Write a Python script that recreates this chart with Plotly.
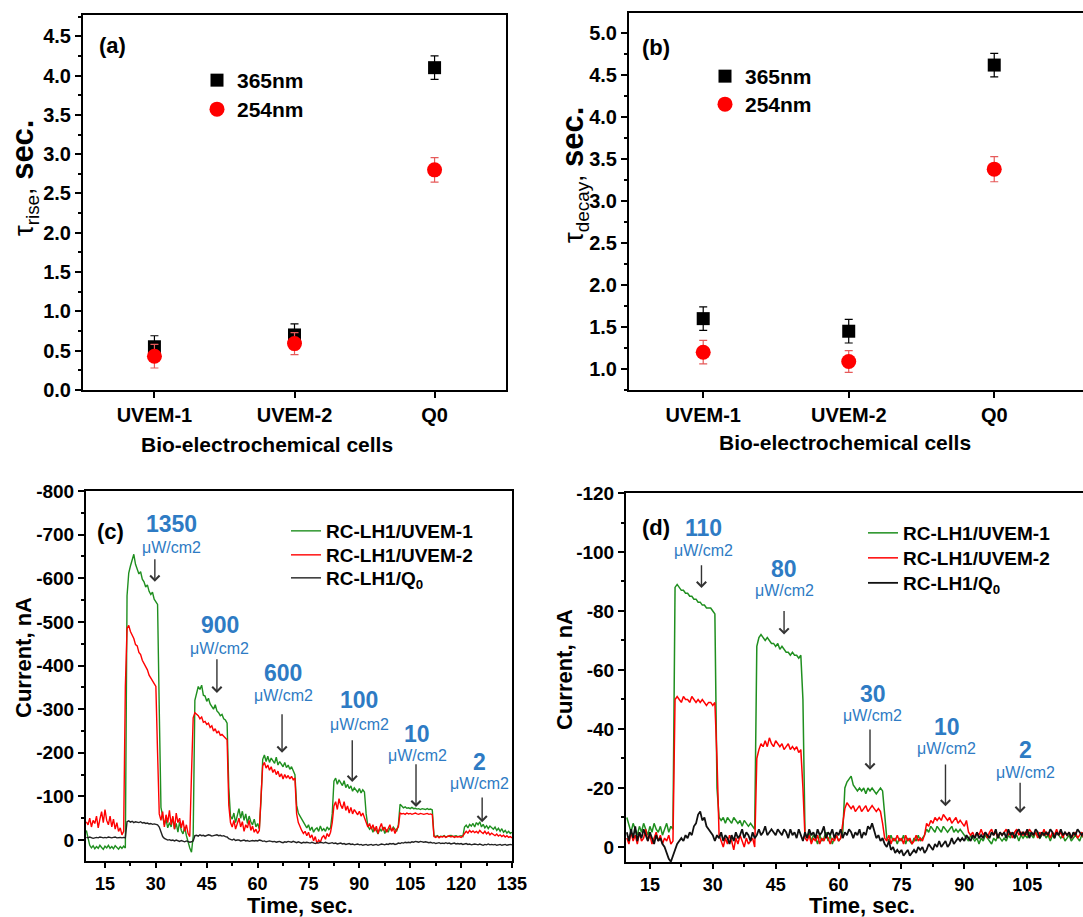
import numpy as np
import plotly.graph_objects as go

FONT = "Liberation Sans, Arial, sans-serif"
W, H = 1083, 917

# ---------------- panel (a)/(b) data ----------------
cells = ["UVEM-1", "UVEM-2", "Q0"]
rise_365 = [0.55, 0.70, 4.10]
rise_365_err = [0.14, 0.14, 0.15]
rise_254 = [0.43, 0.59, 2.80]
rise_254_err = [0.15, 0.14, 0.155]
decay_365 = [1.60, 1.45, 4.62]
decay_365_err = [0.14, 0.14, 0.14]
decay_254 = [1.20, 1.09, 3.38]
decay_254_err = [0.14, 0.13, 0.15]

# ---------------- panel (c) data (t = 9.5 s, step 0.5 s) ----------------
green_c = [
    -22, -4, 12, 18, 13, 20, 15, 19, 12, 17,
    21, 14, 18, 12, 19, 15, 20, 13, 17, 21,
    15, 19, 14, 18, -560, -612, -628, -645, -655, -632,
    -622, -610, -615, -598, -592, -580, -585, -570, -563, -568,
    -552, -545, -540, -300, -75, -55, -35, -48, -28, -40,
    -30, -52, -25, -38, -18, -42, -22, -14, -30, -10,
    5, 18, 28, -8, -320, -340, -352, -345, -355, -332,
    -330, -318, -325, -312, -306, -300, -310, -296, -292, -285,
    -288, -278, -275, -268, -120, -55, -48, -62, -40, -58,
    -72, -50, -66, -45, -60, -38, -55, -42, -35, -48,
    -30, -38, -25, -90, -185, -195, -180, -192, -178, -188,
    -182, -176, -190, -172, -180, -175, -168, -178, -166, -172,
    -162, -168, -160, -150, -80, -62, -55, -48, -40, -32,
    -28, -35, -22, -30, -18, -25, -28, -20, -32, -22,
    -26, -20, -30, -24, -28, -60, -135, -142, -128, -138,
    -130, -125, -136, -120, -128, -118, -124, -112, -120, -115,
    -110, -118, -108, -115, -110, -60, -32, -25, -30, -18,
    -28, -22, -14, -26, -20, -30, -15, -24, -18, -28,
    -22, -30, -25, -20, -35, -82, -78, -74, -76, -73,
    -74, -72, -75, -72, -73, -71, -72, -70, -72, -71,
    -70, -72, -70, -71, -69, -10, -8, -10, -7, -9,
    -8, -10, -7, -9, -8, -11, -8, -9, -10, -8,
    -9, -10, -8, -30, -34, -28, -36, -32, -38, -30,
    -40, -35, -42, -30, -36, -28, -33, -26, -32, -28,
    -25, -30, -22, -27, -20, -26, -18, -22, -16, -20,
    -15, -18,
]
red_c = [
    -42, -35, -50, -30, -45, -38, -55, -28, -48, -65,
    -40, -70, -45, -35, -55, -30, -48, -25, -40, -20,
    -28, -12, -20, -350, -485, -492, -478, -470, -462, -448,
    -445, -430, -425, -412, -405, -398, -390, -378, -372, -365,
    -358, -352, -200, -60, -45, -65, -30, -58, -40, -68,
    -35, -55, -25, -62, -40, -50, -28, -45, -20, -35,
    -15, -8, -150, -280, -292, -288, -285, -278, -282, -270,
    -272, -265, -268, -258, -262, -250, -255, -245, -250, -240,
    -242, -238, -235, -230, -80, -40, -30, -45, -25, -38,
    -50, -30, -42, -20, -35, -28, -45, -22, -32, -18,
    -25, -15, -22, -100, -170, -178, -165, -172, -160, -168,
    -155, -162, -150, -158, -145, -152, -140, -150, -142, -148,
    -140, -146, -138, -142, -60, -40, -30, -22, -15, -20,
    -10, -18, -5, -12, 2, -8, 8, 0, 5, -6,
    -10, -2, -15, -8, -18, -40, -78, -88, -70, -95,
    -80, -72, -88, -68, -78, -62, -75, -60, -70, -64,
    -58, -66, -55, -62, -52, -40, -30, -38, -25, -35,
    -20, -32, -15, -28, -38, -22, -30, -18, -26, -35,
    -20, -28, -15, -25, -30, -62, -60, -61, -59, -62,
    -60, -61, -59, -60, -62, -60, -59, -61, -60, -59,
    -60, -61, -59, -60, -58, -8, -6, -9, -5, -8,
    -7, -9, -6, -8, -10, -7, -9, -6, -8, -7,
    -8, -6, -9, -15, -20, -16, -22, -18, -21, -17,
    -20, -16, -22, -18, -15, -20, -14, -18, -12, -16,
    -13, -10, -14, -9, -12, -8, -11, -7, -10, -6,
    -8, -5,
]
black_c = [
    -6, -5, -7, -6, -4, -5, -6, -5, -7, -6,
    -5, -6, -5, -7, -6, -5, -6, -7, -5, -6,
    -6, -5, -6, -5, -42, -44, -41, -43, -40, -42,
    -41, -40, -42, -39, -40, -38, -39, -37, -38, -36,
    -37, -36, -35, -30, -18, -8, -4, -2, 0, -1,
    1, 0, 2, 0, 1, 3, 1, 2, 4, 2,
    3, 5, 4, 2, -10, -11, -9, -12, -10, -11,
    -9, -10, -12, -11, -9, -10, -11, -12, -10, -11,
    -9, -10, -8, -7, -3, -1, 0, -2, 1, 0,
    0, 2, 1, 0, 2, 1, 3, 2, 1, 2,
    1, 2, 0, 1, 3, 2, 4, 3, 2, 3,
    4, 3, 5, 4, 3, 5, 6, 4, 5, 3,
    4, 5, 3, 5, 6, 4, 5, 7, 5, 6,
    5, 6, 7, 5, 6, 8, 6, 7, 5, 6,
    7, 5, 6, 8, 7, 6, 8, 7, 9, 8,
    7, 9, 8, 10, 9, 8, 10, 9, 11, 10,
    9, 11, 10, 12, 11, 10, 12, 11, 10, 12,
    11, 10, 12, 11, 9, 10, 11, 9, 10, 8,
    9, 8, 10, 9, 7, 8, 6, 7, 5, 6,
    5, 6, 4, 5, 3, 4, 5, 3, 4, 5,
    4, 5, 6, 5, 7, 6, 8, 7, 6, 8,
    7, 8, 6, 8, 7, 9, 8, 7, 9, 8,
    9, 8, 10, 9, 8, 10, 9, 11, 10, 9,
    10, 11, 9, 10, 12, 10, 11, 9, 11, 10,
    11, 10, 12, 11, 10, 12, 11, 10, 12, 11,
    10, 11,
]

# ---------------- panel (d) data (t = 9.5 s, step 0.5 s) ----------------
green_d = [
    -10, -7, -5, -8, -6, -4, -7, -5, -8, -6,
    -4, -7, -5, -8, -6, -5, -7, -4, -6, -8,
    -5, -7, -6, -88, -89, -88, -87, -87, -86, -86,
    -85, -85, -84, -84, -83, -83, -82, -82, -81, -81,
    -81, -80, -79, -20, -10, -9, -10, -8, -10, -9,
    -8, -10, -9, -8, -9, -7, -9, -8, -7, -8,
    -7, -6, -68, -71, -72, -71, -70, -71, -70, -69,
    -69, -68, -69, -67, -68, -67, -66, -66, -65, -66,
    -65, -65, -64, -65, -50, -4, -3, -5, -2, -4,
    -3, -1, -4, -2, -3, -5, -2, -4, -1, -3,
    -4, -2, -3, -5, -20, -22, -23, -24, -21, -20,
    -19, -20, -19, -20, -18, -20, -19, -20, -19, -18,
    -19, -20, -19, -10, -3, -2, -4, -2, -3, -1,
    -3, -2, -4, -1, -3, -2, -1, -3, -2, -4,
    -2, -3, -4, -6, -5, -7, -6, -5, -7, -6,
    -5, -7, -6, -5, -6, -7, -5, -6, -5, -6,
    -5, -4, -3, -2, -4, -3, -2, -3, -1, -3,
    -2, -4, -3, -2, -1, -3, -2, -4, -3, -2,
    -3, -2, -4, -3, -5, -3, -4, -2, -4, -3,
    -4, -3, -5, -4, -3, -5, -4, -3, -4, -5,
    -3, -4, -2, -4, -3, -5, -4, -3, -4, -2,
    -3, -4, -2, -3, -4, -3, -2, -4, -3, -2,
]
red_d = [
    -3, -1, -5, -2, -4, -1, -5, -2, -3, -6,
    -2, -4, -1, -3, -5, -2, -4, -1, -3, -2,
    -4, -1, -2, -50, -51, -50, -49, -51, -50, -50,
    -49, -51, -50, -49, -50, -49, -50, -49, -48, -49,
    -49, -48, -49, -30, -4, -2, 0, -3, -1, -4,
    -2, 1, -3, -1, -4, -2, 0, -3, -1, -2,
    -3, 0, -30, -33, -35, -34, -36, -34, -37, -35,
    -34, -36, -35, -34, -35, -33, -34, -35, -33, -34,
    -33, -34, -32, -33, -20, -3, -2, -4, -1, -3,
    -2, -4, -1, -3, -2, -4, -3, -1, -3, -2,
    -4, -2, -3, -8, -13, -15, -14, -13, -14, -12,
    -13, -14, -12, -13, -14, -12, -13, -14, -13, -12,
    -13, -12, -8, -3, -2, -4, -1, -3, -2, -4,
    -2, -3, -1, -4, -2, -3, -1, -2, -4, -2,
    -3, -2, -4, -8, -7, -9, -8, -10, -9, -10,
    -9, -11, -10, -9, -10, -8, -9, -10, -8, -9,
    -8, -7, -9, -5, -4, -5, -3, -5, -4, -6,
    -4, -5, -3, -5, -6, -4, -5, -3, -5, -4,
    -5, -6, -4, -5, -3, -5, -6, -4, -5, -4,
    -5, -4, -6, -5, -4, -5, -3, -5, -4, -6,
    -4, -5, -3, -5, -4, -6, -4, -5, -3, -5,
    -4, -5, -3, -4, -5, -3, -4, -5, -3, -4,
]
black_d = [
    -5, -2, -6, -3, -7, -2, -5, -3, -6, -4,
    -2, -5, -3, -1, -4, -2, -3, -1, 0, 2,
    4, 5, 3, 1, -1, -2, -3, -2, -4, -3,
    -5, -4, -7, -8, -11, -12, -9, -10, -7, -6,
    -5, -4, -2, -4, -3, -5, -2, -4, -3, -1,
    -4, -2, -5, -3, -4, -6, -3, -5, -4, -2,
    -5, -3, -4, -6, -4, -5, -7, -4, -5, -6,
    -5, -4, -6, -5, -4, -6, -5, -3, -6, -4,
    -5, -3, -6, -4, -2, -5, -3, -6, -4, -5,
    -3, -6, -4, -5, -7, -3, -5, -4, -6, -3,
    -5, -4, -6, -3, -5, -4, -6, -5, -3, -5,
    -4, -6, -3, -5, -4, -7, -6, -8, -5, -3,
    -4, -2, -3, -1, 0, -2, 1, 0, 2, 1,
    2, 1, 3, 2, 1, 3, 2, 1, 2, 0,
    1, 0, 2, 1, -1, 0, 1, -1, 0, -2,
    0, -1, -2, 0, -1, -3, -1, -2, -3, -2,
    -3, -2, -4, -3, -2, -4, -3, -5, -3, -4,
    -3, -5, -4, -3, -5, -4, -6, -3, -5, -4,
    -5, -3, -6, -4, -5, -3, -5, -6, -4, -5,
    -4, -6, -3, -5, -4, -6, -5, -3, -5, -4,
    -5, -4, -6, -5, -3, -5, -4, -6, -4, -5,
    -4, -5, -3, -5, -4, -6, -5, -4, -5, -3,
]

t_start, t_step = 9.5, 0.5
t_c = [round(t_start + t_step * i, 2) for i in range(len(green_c))]
t_d = [round(t_start + t_step * i, 2) for i in range(len(green_d))]

series_names = ["RC-LH1/UVEM-1", "RC-LH1/UVEM-2", "RC-LH1/Q<sub>0</sub>"]

# intensity labels
int_c = ["1350", "900", "600", "100", "10", "2"]
int_d = ["110", "80", "30", "10", "2"]

# tick labels
xt_c = [15, 30, 45, 60, 75, 90, 105, 120, 135]
yt_c = [-800, -700, -600, -500, -400, -300, -200, -100, 0]
yt_c_text = ["-800", "-700", "-600", "-500", "-400", "-300", "-200", "-100", "0"]
xt_d = [15, 30, 45, 60, 75, 90, 105]
yt_d = [-120, -100, -80, -60, -40, -20, 0]
yt_d_text = ["-120", "-100", "-80", "-60", "-40", "-20", "0"]

GREEN = "#1f8f1f"
RED = "#ff0000"
BLUE = "#2e7bc4"
ERR_RED = "#e65a5a"

fig = go.Figure()

# panel (a)
fig.add_trace(go.Scatter(x=cells, y=rise_365, mode="markers", name="365nm",
                         marker=dict(symbol="square", size=13, color="black"),
                         error_y=dict(type="data", array=rise_365_err, color="black", thickness=1.2, width=4),
                         xaxis="x", yaxis="y", legend="legend"))
fig.add_trace(go.Scatter(x=cells, y=rise_254, mode="markers", name="254nm",
                         marker=dict(symbol="circle", size=15, color=RED),
                         error_y=dict(type="data", array=rise_254_err, color=ERR_RED, thickness=1.2, width=4),
                         xaxis="x", yaxis="y", legend="legend2"))
# panel (b)
fig.add_trace(go.Scatter(x=cells, y=decay_365, mode="markers", name="365nm",
                         marker=dict(symbol="square", size=13, color="black"),
                         error_y=dict(type="data", array=decay_365_err, color="black", thickness=1.2, width=4),
                         xaxis="x2", yaxis="y2", legend="legend3"))
fig.add_trace(go.Scatter(x=cells, y=decay_254, mode="markers", name="254nm",
                         marker=dict(symbol="circle", size=15, color=RED),
                         error_y=dict(type="data", array=decay_254_err, color=ERR_RED, thickness=1.2, width=4),
                         xaxis="x2", yaxis="y2", legend="legend4"))
# panel (c)
for k, (ys, col, nm) in enumerate([(green_c, GREEN, series_names[0]), (red_c, RED, series_names[1]),
                                   (black_c, "#222222", series_names[2])]):
    fig.add_trace(go.Scatter(x=t_c, y=ys, mode="lines", name=nm, line=dict(color=col, width=1.4),
                             xaxis="x3", yaxis="y3", legend="legend%d" % (5 + k)))
# panel (d)
for k, (ys, col, nm, w) in enumerate([(green_d, GREEN, series_names[0], 1.5), (red_d, RED, series_names[1], 1.5),
                                      (black_d, "#111111", series_names[2], 1.8)]):
    fig.add_trace(go.Scatter(x=t_d, y=ys, mode="lines", name=nm, line=dict(color=col, width=w),
                             xaxis="x4", yaxis="y4", legend="legend%d" % (8 + k)))

tickfont = dict(family=FONT, size=20, color="black", weight="bold")
tickfont_cy = dict(tickfont, size=19)
tickfont_cx = dict(tickfont, size=18)
base_ax = dict(showline=True, linecolor="black", linewidth=2, ticks="outside", ticklen=6, tickwidth=2,
               tickcolor="black", showgrid=False, zeroline=False, tickfont=tickfont)
minor_base = dict(ticks="outside", ticklen=3, tickwidth=1.5, tickcolor="black")


def px_x(p):
    return p / W


def px_y(p):
    return 1 - p / H


layout = dict(
    width=W, height=H, margin=dict(l=0, r=0, t=0, b=0, autoexpand=False),
    paper_bgcolor="white", plot_bgcolor="white",
    font=dict(family=FONT, color="black"),
    xaxis=dict(base_ax, domain=[px_x(83), px_x(506)], anchor="y", type="category",
               range=[-0.51, 2.51], mirror=True),
    yaxis=dict(base_ax, domain=[px_y(390), px_y(15)], anchor="x", range=[0, 4.77], dtick=0.5,
               tick0=0, tickformat=".1f", mirror=True, minor=dict(minor_base, dtick=0.25)),
    xaxis2=dict(base_ax, domain=[px_x(629), 1.0], anchor="y2", type="category",
                range=[-0.51, 2.61], mirror=True),
    yaxis2=dict(base_ax, domain=[px_y(390), px_y(13)], anchor="x2", range=[0.75, 5.24], dtick=0.5,
                tick0=0, tickformat=".1f", mirror=False, minor=dict(minor_base, dtick=0.25)),
    xaxis3=dict(base_ax, domain=[px_x(86), px_x(512)], anchor="y3", range=[9.4, 135],
                tickmode="array", tickvals=xt_c, ticktext=[str(v) for v in xt_c], mirror=True,
                ticklen=5, tickfont=tickfont_cx,
                minor=dict(minor_base, tickmode="linear", tick0=0, dtick=7.5)),
    yaxis3=dict(base_ax, domain=[px_y(861), px_y(491)], anchor="x3", range=[48, -800],
                tickmode="array", tickvals=yt_c, ticktext=yt_c_text, mirror=True, tickfont=tickfont_cy,
                minor=dict(minor_base, tickmode="linear", tick0=0, dtick=50)),
    xaxis4=dict(base_ax, domain=[px_x(626), 1.0], anchor="y4", range=[9.3, 118.3],
                tickmode="array", tickvals=xt_d, ticktext=[str(v) for v in xt_d], mirror=True,
                ticklen=5, tickfont=tickfont_cx,
                minor=dict(minor_base, tickmode="linear", tick0=0, dtick=7.5)),
    yaxis4=dict(base_ax, domain=[px_y(862), px_y(493)], anchor="x4", range=[5.1, -120],
                tickmode="array", tickvals=yt_d, ticktext=yt_d_text, mirror=False, tickfont=tickfont_cy,
                minor=dict(minor_base, tickmode="linear", tick0=0, dtick=10)),
    showlegend=True,
)

leg_common = dict(xanchor="left", yanchor="top", bgcolor="rgba(0,0,0,0)", borderwidth=0)
big_leg_font = dict(family=FONT, size=21, weight="bold", color="black")
small_leg_font = dict(family=FONT, size=19, weight="bold", color="black")
# (a) legends
layout["legend"] = dict(leg_common, x=px_x(197), y=px_y(60), font=big_leg_font)
layout["legend2"] = dict(leg_common, x=px_x(197), y=px_y(89), font=big_leg_font)
# (b) legends
layout["legend3"] = dict(leg_common, x=px_x(705), y=px_y(56), font=big_leg_font)
layout["legend4"] = dict(leg_common, x=px_x(705), y=px_y(84), font=big_leg_font)
# (c) legends
for k, yc in enumerate([530, 554, 577]):
    layout["legend%d" % (5 + k)] = dict(leg_common, x=px_x(286), y=px_y(yc - 18), font=small_leg_font)
# (d) legends
for k, yc in enumerate([532, 557, 582]):
    layout["legend%d" % (8 + k)] = dict(leg_common, x=px_x(863), y=px_y(yc - 18), font=small_leg_font)

fig.update_layout(**layout)

ann = []


def pann(text, x, y, font, angle=0):
    return dict(text=text, x=px_x(x), y=px_y(y), xref="paper", yref="paper", showarrow=False,
                xanchor="center", yanchor="middle", textangle=angle, font=font)


# panel tags
tag_font = dict(family=FONT, size=22, weight="bold", color="black")
for tag, x, y in [("(a)", 112, 45), ("(b)", 656, 47), ("(c)", 110, 531), ("(d)", 656, 527)]:
    ann.append(pann(tag, x, y, tag_font))

# axis titles
title_font = dict(family=FONT, size=21, weight="bold", color="black")
ann.append(pann("Bio-electrochemical cells", 267, 445, title_font))
ann.append(pann("Bio-electrochemical cells", 845, 442, title_font))
ann.append(pann("Time, sec.", 300, 905, dict(title_font, size=22)))
ann.append(pann("Time, sec.", 862, 905, dict(title_font, size=22)))
ann.append(pann("Current, nA", 23, 658, dict(title_font, size=22), -90))
ann.append(pann("Current, nA", 564, 670, dict(title_font, size=22), -90))
tau_font = dict(family=FONT, size=27, color="black")
ann.append(pann("τ<sub>rise</sub>, <b><span style='font-size:31px'>sec.</span></b>", 24, 178, tau_font, -90))
ann.append(pann("τ<sub>decay</sub>, <b><span style='font-size:31px'>sec.</span></b>", 574, 175, tau_font, -90))

# intensity labels with arrows (label text centres, arrow tails and heads, in data units)
lab_c = dict(t=[34.5, 48.9, 67.5, 89.9, 107.0, 125.3],
             num=[-724, -492, -384, -320, -243, -179],
             sub=[-670, -438, -331, -266, -193, -129],
             at=[29.7, 48.0, 67.2, 87.9, 106.7, 126.2],
             tail=[-647, -418, -292, -232, -177, -101],
             head=[-592, -337, -200, -133, -76, -41])
lab_d = dict(t=[27.7, 47.1, 68.2, 85.8, 104.7],
             num=[-108, -94.4, -52, -40.8, -32.9],
             sub=[-100.4, -87.0, -44.7, -33.4, -25.4],
             at=[27.3, 47.0, 67.5, 85.5, 103.3],
             tail=[-96, -80.5, -40.3, -28.5, -22.3],
             head=[-87.8, -72, -26.2, -13.8, -11.5])

for labels, L, xr, yr in [(int_c, lab_c, "x3", "y3"), (int_d, lab_d, "x4", "y4")]:
    for i, txt in enumerate(labels):
        ann.append(dict(text=txt, x=L["t"][i], y=L["num"][i], xref=xr, yref=yr, showarrow=False,
                        xanchor="center", yanchor="middle",
                        font=dict(family=FONT, size=23, weight="bold", color=BLUE)))
        ann.append(dict(text="μW/cm2", x=L["t"][i], y=L["sub"][i], xref=xr, yref=yr, showarrow=False,
                        xanchor="center", yanchor="middle",
                        font=dict(family=FONT, size=16, color=BLUE)))
        ann.append(dict(text="", x=L["at"][i], y=L["head"][i], ax=L["at"][i], ay=L["tail"][i],
                        xref=xr, yref=yr, axref=xr, ayref=yr, showarrow=True, arrowhead=4,
                        arrowsize=1.3, arrowwidth=1.4, arrowcolor="#333333", standoff=0, startstandoff=0))

fig.update_layout(annotations=ann)
fig.write_html("out.html")
